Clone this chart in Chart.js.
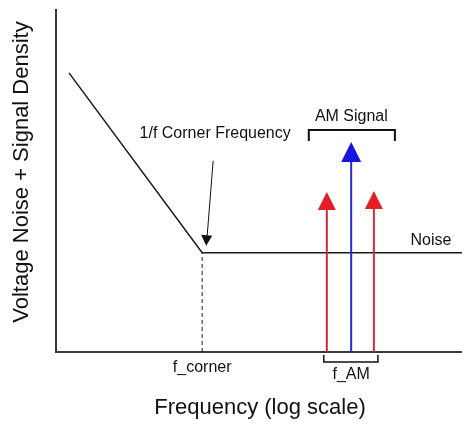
<!DOCTYPE html>
<html>
<head>
<meta charset="utf-8">
<script src="https://cdn.jsdelivr.net/npm/chart.js@4.4.1/dist/chart.umd.min.js"></script>
<style>
  html, body { margin: 0; padding: 0; background: #fff; }
  #wrap { width: 462px; height: 425px; }
</style>
</head>
<body>
<div id="wrap"><canvas id="grafico"></canvas></div>
<script>
// data (arbitrary units, x = log frequency position, y = density)
const noiseFreq = [3.2, 36, 100];
const noiseLevel = [81.6, 29, 29];
const cornerFreq = 36;
const arrowFreq = [66.7, 72.7, 78.3];   // lower sideband, carrier, upper sideband
const arrowTop = [46.8, 61.4, 47.1];
const arrowColor = ['#e51d25', '#1416e0', '#e51d25'];
const lineColor = ['#c52a3a', '#2a2ad0', '#e0283a'];

const font = '"Liberation Sans", Arial, sans-serif';

// arrows (shaft + triangle head)
const arrowPlugin = {
  id: 'arrows',
  afterDatasetsDraw(chart) {
    const { ctx, scales: { x, y } } = chart;
    ctx.save();
    arrowFreq.forEach((f, i) => {
      const px = x.getPixelForValue(f);
      const tip = y.getPixelForValue(arrowTop[i]);
      const base = y.getPixelForValue(0);
      const h = i === 1 ? 20 : 18;
      const w = i === 1 ? 10 : 9;
      ctx.strokeStyle = lineColor[i];
      ctx.lineWidth = 2;
      ctx.beginPath();
      ctx.moveTo(px, base);
      ctx.lineTo(px, tip + h);
      ctx.stroke();
      ctx.fillStyle = arrowColor[i];
      ctx.beginPath();
      ctx.moveTo(px, tip);
      ctx.lineTo(px + w, tip + h);
      ctx.lineTo(px - w, tip + h);
      ctx.closePath();
      ctx.fill();
    });
    ctx.restore();
  }
};

// text labels, brackets, corner pointer
const labelPlugin = {
  id: 'labels',
  afterDraw(chart) {
    const { ctx, scales: { x, y } } = chart;
    const cx = x.getPixelForValue(cornerFreq);
    const cy = y.getPixelForValue(noiseLevel[1]);
    const bottom = y.getPixelForValue(0);
    const lo = x.getPixelForValue(arrowFreq[0]);
    const mid = x.getPixelForValue(arrowFreq[1]);
    const hi = x.getPixelForValue(arrowFreq[2]);
    const topBlue = y.getPixelForValue(arrowTop[1]);

    ctx.save();
    ctx.fillStyle = '#111';
    ctx.strokeStyle = '#111';
    ctx.textAlign = 'center';
    ctx.textBaseline = 'middle';

    // axis titles
    ctx.font = '22px ' + font;
    ctx.fillText('Frequency (log scale)', 260, 408);
    ctx.save();
    ctx.translate(22, 172);
    ctx.rotate(-Math.PI / 2);
    ctx.fillText('Voltage Noise + Signal Density', 0, 0);
    ctx.restore();

    // corner label + pointer
    ctx.font = '16px ' + font;
    ctx.fillText('1/f Corner Frequency', cx + 13, 134);
    ctx.lineWidth = 1;
    ctx.beginPath();
    ctx.moveTo(cx + 11, cy - 92);
    ctx.lineTo(cx + 5, cy - 17);
    ctx.stroke();
    ctx.beginPath();
    ctx.moveTo(cx + 4, cy - 7);
    ctx.lineTo(cx - 1, cy - 18);
    ctx.lineTo(cx + 10, cy - 17);
    ctx.closePath();
    ctx.fill();

    ctx.fillText('f_corner', cx, bottom + 16);
    ctx.fillText('Noise', 431, cy - 12);

    // AM signal bracket
    ctx.lineWidth = 2;
    const bt = topBlue - 12;
    ctx.beginPath();
    ctx.moveTo(lo - 18, bt + 11);
    ctx.lineTo(lo - 18, bt);
    ctx.lineTo(hi + 21, bt);
    ctx.lineTo(hi + 21, bt + 11);
    ctx.stroke();
    ctx.fillText('AM Signal', (lo + hi) / 2 + 1, bt - 13);

    // f_AM bracket
    ctx.lineWidth = 1.5;
    ctx.beginPath();
    ctx.moveTo(lo - 3, bottom + 3);
    ctx.lineTo(lo - 3, bottom + 10);
    ctx.lineTo(hi + 4, bottom + 10);
    ctx.lineTo(hi + 4, bottom + 3);
    ctx.stroke();
    ctx.fillText('f_AM', mid, bottom + 23);
    ctx.restore();
  }
};

new Chart(document.getElementById('grafico'), {
  type: 'scatter',
  data: {
    datasets: [
      {
        label: 'Noise',
        data: noiseFreq.map((f, i) => ({ x: f, y: noiseLevel[i] })),
        showLine: true,
        borderColor: '#1a1a1a',
        borderWidth: 1.5,
        pointRadius: 0
      },
      {
        label: 'f_corner',
        data: [{ x: cornerFreq, y: 0 }, { x: cornerFreq, y: noiseLevel[1] }],
        showLine: true,
        borderColor: '#1a1a1a',
        borderWidth: 1,
        borderDash: [4, 3],
        pointRadius: 0
      }
    ]
  },
  options: {
    responsive: true,
    maintainAspectRatio: false,
    animation: false,
    layout: { padding: { left: 48, right: 0, top: 10, bottom: 65 } },
    plugins: { legend: { display: false }, tooltip: { enabled: false } },
    scales: {
      x: {
        type: 'linear', min: 0, max: 100,
        ticks: { display: false },
        grid: { display: false },
        border: { color: '#3a3a3a', width: 2 }
      },
      y: {
        min: 0, max: 100,
        ticks: { display: false },
        grid: { display: false },
        border: { color: '#3a3a3a', width: 2 }
      }
    }
  },
  plugins: [arrowPlugin, labelPlugin]
});
</script>
</body>
</html>
